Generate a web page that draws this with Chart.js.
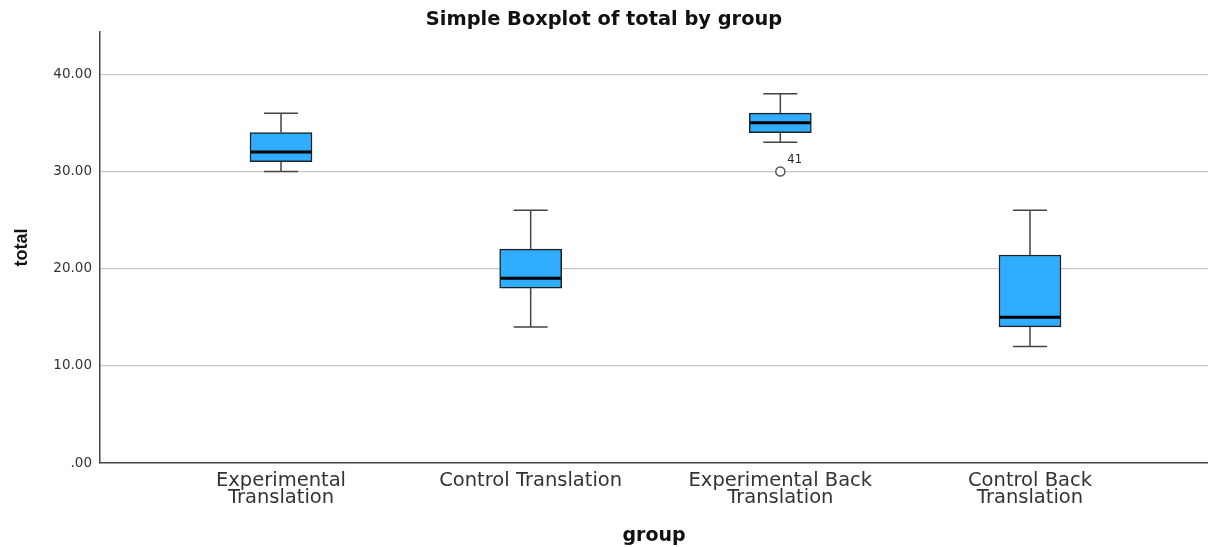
<!DOCTYPE html>
<html lang="en">
<head>
  <meta charset="UTF-8">
  <title>Simple Boxplot of total by group</title>
  <script src="https://cdn.jsdelivr.net/npm/chart.js"></script>
  <style>
    body { margin: 0; background: #fff; overflow: hidden; }
    #wrap { width: 1208px; height: 547px; position: relative; }
  </style>
</head>
<body>
  <div id="wrap"><canvas id="boxChart"></canvas></div>

  <script>
    // data
    const groups = [
      ['Experimental', 'Translation'],
      'Control Translation',
      ['Experimental Back', 'Translation'],
      ['Control Back', 'Translation']
    ];
    const whiskerLow  = [30, 14, 33, 12];
    const q1          = [31, 18, 34, 14];
    const median      = [32, 19, 35, 15];
    const q3          = [34, 22, 36, 21.4];
    const whiskerHigh = [36, 26, 38, 26];

    const outlierGroup = [3];
    const outlierValue = [30];
    const outlierLabel = ['41'];

    const yTicks = [0, 10, 20, 30, 40];

    const boxData = groups.map((g, i) => ({ x: i + 1, y: [q1[i], q3[i]] }));
    const outlierData = outlierGroup.map((g, i) => ({ x: g, y: outlierValue[i] }));

    // whiskers, caps, medians and outlier labels, placed with the chart scales
    const boxExtras = {
      id: 'boxExtras',
      afterDatasetsDraw(chart) {
        const { ctx, scales: { x, y } } = chart;
        const boxW = 62, capW = 34;
        ctx.save();
        groups.forEach((g, i) => {
          const cx = x.getPixelForValue(i + 1);
          ctx.strokeStyle = '#444';
          ctx.lineWidth = 1.5;
          ctx.beginPath();
          ctx.moveTo(cx, y.getPixelForValue(q3[i]));
          ctx.lineTo(cx, y.getPixelForValue(whiskerHigh[i]));
          ctx.moveTo(cx - capW / 2, y.getPixelForValue(whiskerHigh[i]));
          ctx.lineTo(cx + capW / 2, y.getPixelForValue(whiskerHigh[i]));
          ctx.moveTo(cx, y.getPixelForValue(q1[i]));
          ctx.lineTo(cx, y.getPixelForValue(whiskerLow[i]));
          ctx.moveTo(cx - capW / 2, y.getPixelForValue(whiskerLow[i]));
          ctx.lineTo(cx + capW / 2, y.getPixelForValue(whiskerLow[i]));
          ctx.stroke();

          ctx.strokeStyle = '#000';
          ctx.lineWidth = 3;
          ctx.beginPath();
          ctx.moveTo(cx - boxW / 2 + 1, y.getPixelForValue(median[i]));
          ctx.lineTo(cx + boxW / 2 - 1, y.getPixelForValue(median[i]));
          ctx.stroke();
        });
        ctx.fillStyle = '#222';
        ctx.font = '11.5px "DejaVu Sans"';
        ctx.textBaseline = 'alphabetic';
        outlierGroup.forEach((g, i) => {
          ctx.fillText(outlierLabel[i], x.getPixelForValue(g) + 7, y.getPixelForValue(outlierValue[i]) - 8);
        });
        ctx.restore();
      }
    };

    new Chart(document.getElementById('boxChart'), {
      type: 'bar',
      data: {
        datasets: [
          {
            type: 'bar',
            data: boxData,
            backgroundColor: '#31adff',
            borderColor: '#222',
            borderWidth: 1.5,
            borderSkipped: false,
            barThickness: 62
          },
          {
            type: 'scatter',
            data: outlierData,
            pointStyle: 'circle',
            pointRadius: 4.5,
            pointBackgroundColor: '#fff',
            pointBorderColor: '#555',
            pointBorderWidth: 1.5
          }
        ]
      },
      options: {
        responsive: true,
        maintainAspectRatio: false,
        animation: false,
        layout: { autoPadding: false, padding: 0 },
        plugins: {
          legend: { display: false },
          tooltip: { enabled: false },
          title: {
            display: true,
            text: 'Simple Boxplot of total by group',
            color: '#111',
            font: { family: '"DejaVu Sans"', size: 19.4, weight: 'bold', lineHeight: 1.2 },
            padding: { top: 8, bottom: 0.7 }
          }
        },
        scales: {
          x: {
            type: 'linear',
            offset: false,
            min: 0.275,
            max: 4.713,
            afterBuildTicks: s => { s.ticks = groups.map((g, i) => ({ value: i + 1 })); },
            afterFit: s => { s.height = 84; },
            grid: { display: false },
            border: { display: true, color: '#444', width: 1.5 },
            ticks: {
              autoSkip: false,
              maxRotation: 0,
              padding: 1.5,
              color: '#333',
              font: { family: '"DejaVu Sans"', size: 19.5, lineHeight: '17px' },
              callback: v => groups[v - 1]
            },
            title: {
              display: true,
              text: 'group',
              color: '#111',
              font: { family: '"DejaVu Sans"', size: 19, weight: 'bold', lineHeight: 1.1 },
              padding: { top: 0, bottom: 0 }
            }
          },
          y: {
            min: 0,
            max: 44.35,
            afterBuildTicks: s => { s.ticks = yTicks.map(v => ({ value: v })); },
            afterFit: s => { s.width = 100; },
            grid: {
              drawTicks: false,
              color: c => (c.tick && c.tick.value === 0) ? 'rgba(0,0,0,0)' : '#c8c8c8',
              lineWidth: 1.3
            },
            border: { display: true, color: '#444', width: 1.5 },
            ticks: {
              padding: 8,
              color: '#333',
              font: { family: '"DejaVu Sans"', size: 13.5 },
              callback: v => v === 0 ? '.00' : v.toFixed(2)
            },
            title: {
              display: true,
              text: 'total',
              color: '#111',
              font: { family: '"Liberation Sans"', size: 18, weight: 'bold', lineHeight: 1.2 },
              padding: { top: 11, bottom: 0 }
            }
          }
        }
      },
      plugins: [boxExtras]
    });
  </script>
</body>
</html>
